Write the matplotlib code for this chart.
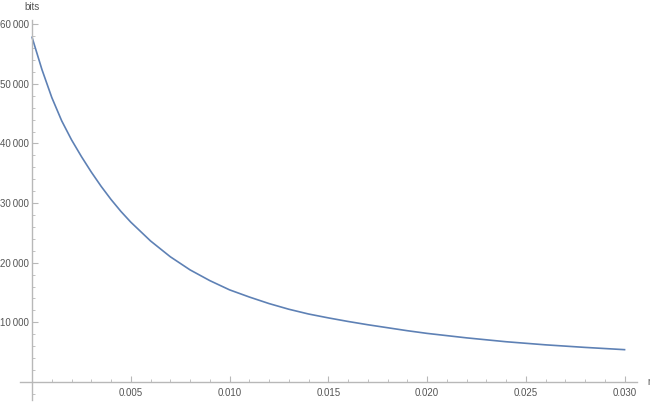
import matplotlib
matplotlib.use("Agg")
import matplotlib.pyplot as plt
from matplotlib.ticker import MultipleLocator, FuncFormatter

# values
r = [0, 0.0005, 0.001, 0.0015, 0.002, 0.0025, 0.003, 0.0035, 0.004, 0.0045,
     0.005, 0.006, 0.007, 0.008, 0.009, 0.010, 0.011, 0.012, 0.013, 0.014,
     0.015, 0.016, 0.017, 0.018, 0.019, 0.020, 0.022, 0.024, 0.026, 0.028, 0.030]
bits = [57800, 52400, 47700, 43800, 40600, 37800, 35200, 32800, 30600, 28600,
        26800, 23650, 21000, 18800, 17000, 15450, 14250, 13150, 12200, 11400,
        10750, 10150, 9600, 9100, 8600, 8150, 7400, 6750, 6230, 5800, 5420]

x_ticks = [0.005, 0.010, 0.015, 0.020, 0.025, 0.030]
y_ticks = [10000, 20000, 30000, 40000, 50000, 60000]

axis_col = "#b8b8b8"
label_col = "#555555"
plt.rcParams["font.family"] = ["Liberation Sans", "DejaVu Sans"]

fig = plt.figure(figsize=(6.5, 4.03), dpi=100)
ax = fig.add_axes([20 / 650, 3 / 403, 617 / 650, 380 / 403])
ax.plot(r, bits, color="#5e81b5", lw=1.2)

ax.set_xlim(-0.00061, 0.03063)
ax.set_ylim(-3020, 60700)

for s in ["top", "right"]:
    ax.spines[s].set_visible(False)
ax.spines["left"].set_position(("data", 0))
ax.spines["bottom"].set_position(("data", 0))
for s in ["left", "bottom"]:
    ax.spines[s].set_color(axis_col)
    ax.spines[s].set_linewidth(1.0)

ax.set_xticks(x_ticks)
ax.set_yticks(y_ticks)
ax.xaxis.set_minor_locator(MultipleLocator(0.001))
ax.yaxis.set_minor_locator(MultipleLocator(2000))
ax.xaxis.set_major_formatter(FuncFormatter(lambda v, p: f"{v:.3f}"))
ax.yaxis.set_major_formatter(FuncFormatter(lambda v, p: f"{int(v):,}".replace(",", "\u2009")))

ax.tick_params(which="both", direction="in", color=axis_col, labelcolor=label_col, labelsize=7)
ax.tick_params(which="major", length=4, width=0.8, pad=2)
ax.tick_params(which="minor", length=2.5, width=0.6)
ax.tick_params(axis="x", which="major", pad=4)

ax.text(0, 60700 + 1300, "bits", ha="center", va="bottom", fontsize=7, color=label_col,
        clip_on=False)
ax.text(0.03063 + 0.0005, 0, "r", ha="left", va="center", fontsize=7, color=label_col,
        clip_on=False)

fig.savefig("out.png", dpi=100)
plt.close(fig)
